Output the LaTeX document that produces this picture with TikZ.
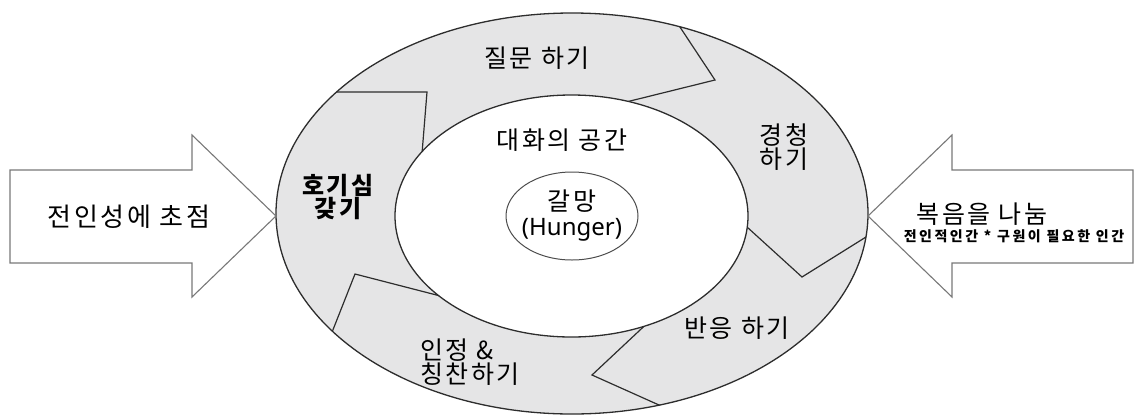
\documentclass[tikz,border=0pt]{standalone}
\usepackage{fontspec}
\newfontfamily\kr{Noto Sans CJK KR}[LetterSpace=10]
\newfontfamily\krsub{Noto Sans CJK KR}[LetterSpace=18]
\newfontfamily\lat{Noto Sans}
\definecolor{ringgray}{RGB}{229,229,230}
\definecolor{edge}{RGB}{45,45,45}
\definecolor{arrowedge}{RGB}{120,120,120}
\tikzset{
  ringedge/.style={draw=edge, line width=1.3pt},
  divider/.style={draw=edge, line width=1.2pt, line join=miter},
  bigarrow/.style={draw=arrowedge, line width=1.1pt, fill=white, line join=miter},
  lbl/.style={font=\kr\fontsize{25}{21}\selectfont, align=center, inner sep=0pt},
  sublbl/.style={font=\krsub\bfseries\fontsize{14}{14}\selectfont, inner sep=0pt},
}
\begin{document}
\begin{tikzpicture}[x=1pt,y=-1pt]
\useasboundingbox (0,0) rectangle (1136,416);

% the grey ring between the outer and the inner ellipse
\fill[ringgray, even odd rule]
  (572,213.5) ellipse [x radius=296pt, y radius=200.5pt]
  (571.5,216) ellipse [x radius=176.5pt, y radius=121pt];

% chevron-shaped borders between the five steps, kept inside the ring
\begin{scope}[even odd rule]
  \clip (572,213.5) ellipse [x radius=296pt, y radius=200.5pt]
        (571.5,216) ellipse [x radius=176.5pt, y radius=121pt];
  \draw[divider] (320,92) -- (427,92) -- (421,166);
  \draw[divider] (672,15) -- (715,80) -- (618,104);
  \draw[divider] (736,217) -- (802,277) -- (882,227);
  \draw[divider] (655,316) -- (592,375) -- (688,418);
  \draw[divider] (325,350) -- (355,274) -- (452,299);
\end{scope}

% ring outlines and the centre ellipse
\draw[ringedge] (572,213.5) ellipse [x radius=296pt, y radius=200.5pt];
\draw[ringedge] (571.5,216) ellipse [x radius=176.5pt, y radius=121pt];
\draw[draw=black!70, line width=1pt] (572,216) ellipse [x radius=66pt, y radius=44pt];

% incoming block arrows
\draw[bigarrow] (10,170) -- (192,170) -- (192,135) -- (276,216)
  -- (192,297) -- (192,263) -- (10,263) -- cycle;
\draw[bigarrow] (1133,170) -- (952,170) -- (952,135) -- (868,216)
  -- (952,297) -- (952,263) -- (1133,263) -- cycle;

% labels
\node[lbl] (ask)     at (537,58)  {질문 하기};
\node[lbl] (listen)  at (784,147) {경청\\하기};
\node[lbl] (respond) at (737,328) {반응 하기};
\node[lbl, align=left, anchor=west] (praise) at (420,362) {인정 \&\\칭찬하기};
\node[lbl, font=\kr\bfseries\fontsize{24}{23}\selectfont] (curious) at (338,197) {호기심\\갖기};
\node[lbl] (space)   at (562,140) {대화의 공간};
\node[lbl, font=\kr\fontsize{25}{25}\selectfont] (hunger) at (572,216) {갈망\\{\lat\fontsize{24}{25}\selectfont(Hunger)}};
\node[lbl, font=\kr\fontsize{26}{21}\selectfont] (whole) at (129,217) {전인성에 초점};
\node[lbl] (gospel)  at (982,214) {복음을 나눔};
\node[sublbl] (person) at (1014,236) {전인적인간 * 구원이 필요한 인간};
\end{tikzpicture}
\end{document}
